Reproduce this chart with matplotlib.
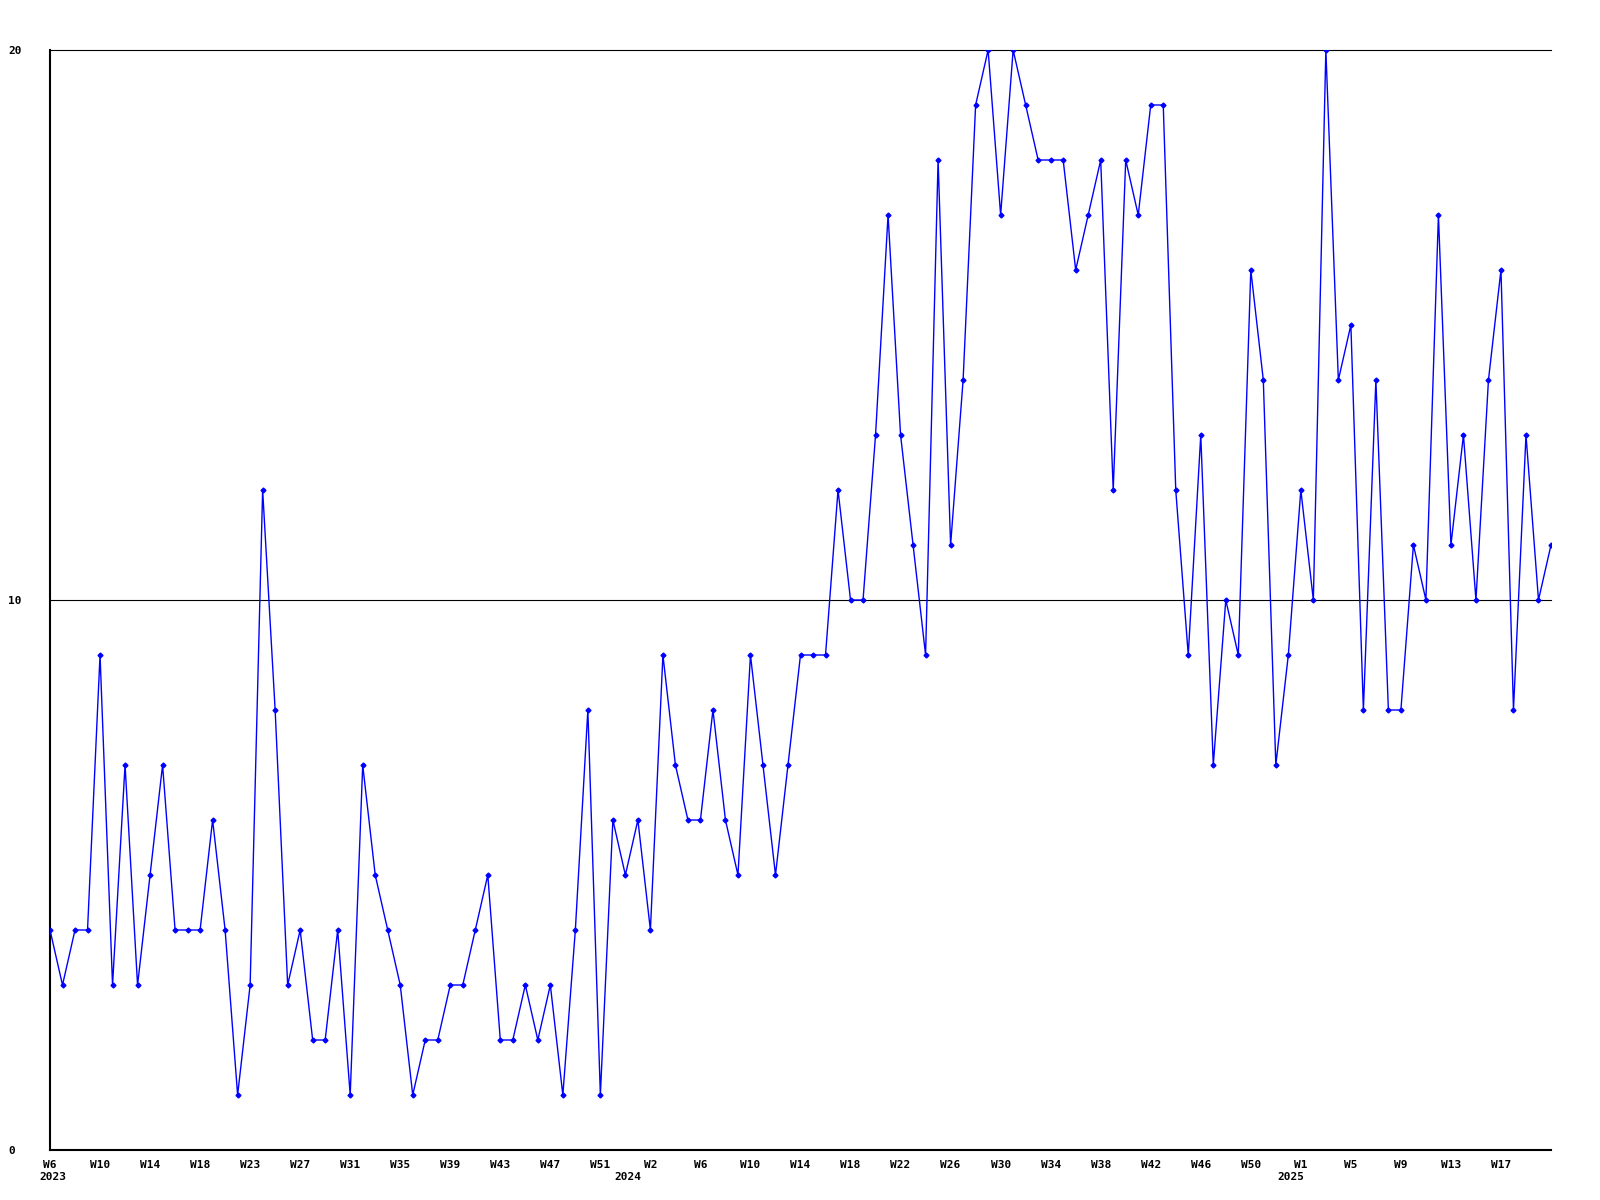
import matplotlib
matplotlib.use('Agg')
import matplotlib.pyplot as plt
import matplotlib.transforms as mtransforms

# Weekly values, 2023 W6 onwards
values = [4, 3, 4, 4, 9, 3, 7, 3, 5, 7, 4, 4, 4, 6, 4, 1, 3, 12, 8, 3,
          4, 2, 2, 4, 1, 7, 5, 4, 3, 1, 2, 2, 3, 3, 4, 5, 2, 2, 3, 2,
          3, 1, 4, 8, 1, 6, 5, 6, 4, 9, 7, 6, 6, 8, 6, 5, 9, 7, 5, 7,
          9, 9, 9, 12, 10, 10, 13, 17, 13, 11, 9, 18, 11, 14, 19, 20, 17, 20, 19, 18,
          18, 18, 16, 17, 18, 12, 18, 17, 19, 19, 12, 9, 13, 7, 10, 9, 16, 14, 7, 9,
          12, 10, 20, 14, 15, 8, 14, 8, 8, 11, 10, 17, 11, 13, 10, 14, 16, 8, 13, 10, 11]

# Week labels, one every 4 points
week_labels = ['W6', 'W10', 'W14', 'W18', 'W23', 'W27', 'W31', 'W35', 'W39',
               'W43', 'W47', 'W51', 'W2', 'W6', 'W10', 'W14', 'W18', 'W22',
               'W26', 'W30', 'W34', 'W38', 'W42', 'W46', 'W50', 'W1', 'W5',
               'W9', 'W13', 'W17']
# Year labels sit at the start of each year (in week units)
year_labels = ['2023', '2024', '2025']
year_positions = [0.25, 46.2, 99.2]

y_ticks = [0, 10, 20]

font = dict(family='DejaVu Sans Mono', weight='bold', size=8)

fig = plt.figure(figsize=(16, 12), dpi=100)
ax = fig.add_axes([50 / 1600, 50 / 1200, 1501 / 1600, 1100 / 1200])

x = list(range(len(values)))
ax.plot(x, values, color='#0000ff', linewidth=1, marker='D', markersize=2.5,
        markerfacecolor='#0000ff', markeredgecolor='#0000ff', zorder=3)

# Horizontal reference lines
for v in y_ticks[1:]:
    ax.axhline(v, color='black', linewidth=0.8, clip_on=False, zorder=2)

ax.set_xlim(0, len(values) - 1)
ax.set_ylim(0, 20)

for s in ['top', 'right']:
    ax.spines[s].set_visible(False)
for s in ['left', 'bottom']:
    ax.spines[s].set_linewidth(1.5)
    ax.spines[s].set_color('black')

ax.set_xticks(range(0, 4 * len(week_labels), 4))
ax.set_xticklabels(week_labels, **font)
ax.set_yticks(y_ticks)
ax.set_yticklabels([str(v) for v in y_ticks], **font, ha='left')
ax.tick_params(axis='both', length=0)
ax.tick_params(axis='x', pad=7)
ax.tick_params(axis='y', pad=30)

# Year labels under the week labels, fixed pixel offset below the axis
trans = mtransforms.blended_transform_factory(ax.transData, fig.transFigure)
for pos, label in zip(year_positions, year_labels):
    ax.text(pos, 1 - 1177 / 1200, label, transform=trans, **font,
            ha='center', va='center', clip_on=False)

fig.savefig('out.png', dpi=100)
